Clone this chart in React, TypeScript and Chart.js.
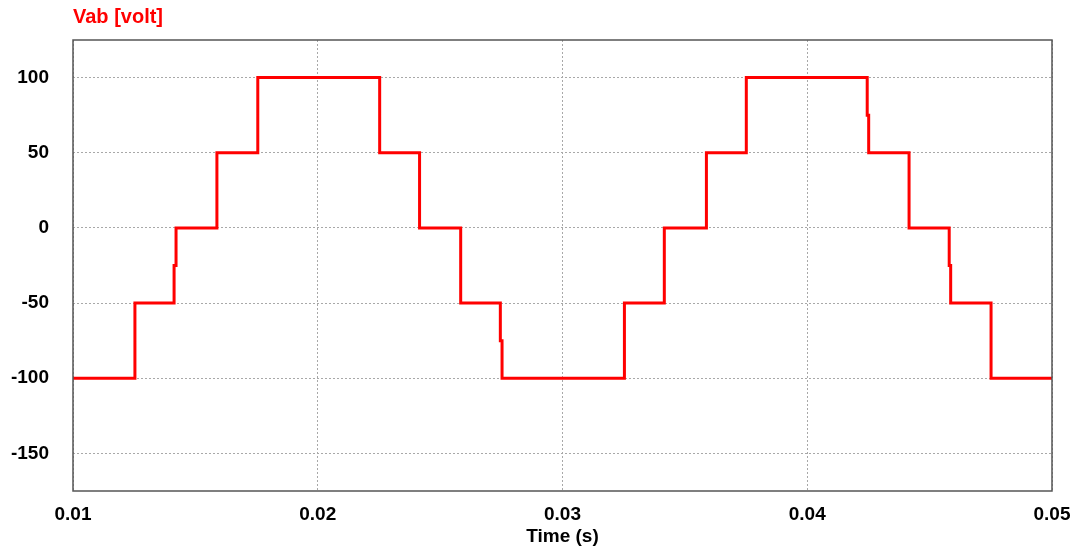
import React, { useEffect, useRef } from "react";
import { Chart, registerables } from "chart.js";

Chart.register(...registerables);

const times = [
  0.01, 0.01253, 0.01413, 0.01421, 0.01588, 0.01755, 0.02253, 0.02416, 0.02584,
  0.02746, 0.02753, 0.03253, 0.03416, 0.03588, 0.03751, 0.04245, 0.04251, 0.04416,
  0.0458, 0.04586, 0.04751, 0.05,
];
const volts = [
  -100, -50, -25, 0, 50, 100, 50, 0, -50,
  -75, -100, -50, 0, 50, 100, 75, 50, 0,
  -25, -50, -100, -100,
];
const xTicks = [0.01, 0.02, 0.03, 0.04, 0.05];
const yTicks = [-150, -100, -50, 0, 50, 100];

const FONT = '"Liberation Sans", Arial, sans-serif';

export default function App() {
  const ref = useRef<HTMLCanvasElement | null>(null);
  useEffect(() => {
    if (!ref.current) return;
    const framePlugin = {
      id: "frame",
      afterDraw(chart: any) {
        const { ctx, chartArea: a } = chart;
        ctx.save();
        ctx.strokeStyle = "#555555";
        ctx.lineWidth = 1.5;
        ctx.strokeRect(a.left, a.top, a.right - a.left, a.bottom - a.top);
        ctx.fillStyle = "#ff0000";
        ctx.font = `bold 20px ${FONT}`;
        ctx.textAlign = "left";
        ctx.textBaseline = "middle";
        ctx.fillText("Vab [volt]", a.left, 17);
        ctx.fillStyle = "#000000";
        ctx.font = `bold 19px ${FONT}`;
        ctx.textAlign = "center";
        ctx.fillText("Time (s)", (a.left + a.right) / 2, 537);
        ctx.restore();
      },
    };
    const chart = new Chart(ref.current, {
      type: "line",
      data: {
        datasets: [
          {
            data: times.map((t, i) => ({ x: t, y: volts[i] })),
            borderColor: "#ff0000",
            borderWidth: 3,
            pointRadius: 0,
            stepped: true,
            fill: false,
          },
        ],
      },
      options: {
        animation: false,
        responsive: false,
        maintainAspectRatio: false,
        layout: { padding: { left: 0, right: 28, top: 40, bottom: 0 } },
        plugins: { legend: { display: false }, tooltip: { enabled: false } },
        scales: {
          x: {
            type: "linear",
            min: 0.01,
            max: 0.05,
            afterBuildTicks: (s: any) => {
              s.ticks = xTicks.map((v) => ({ value: v }));
            },
            afterFit: (s: any) => {
              s.height = 63;
              s.paddingLeft = 0;
              s.paddingRight = 0;
            },
            border: { display: false, dash: [2, 2] },
            grid: {
              color: "#a8a8a8",
              lineWidth: 1,
              drawTicks: false,
            },
            ticks: {
              padding: 12,
              color: "#000",
              font: { family: FONT, size: 19, weight: "bold" },
              maxRotation: 0,
              autoSkip: false,
              callback: (v: any) => Number(v).toFixed(2),
            },
          },
          y: {
            type: "linear",
            min: -175,
            max: 125,
            afterBuildTicks: (s: any) => {
              s.ticks = yTicks.map((v) => ({ value: v }));
            },
            afterFit: (s: any) => {
              s.width = 73;
              s.paddingTop = 0;
              s.paddingBottom = 0;
            },
            border: { display: false, dash: [2, 2] },
            grid: {
              color: "#a8a8a8",
              lineWidth: 1,
              drawTicks: false,
            },
            ticks: {
              padding: 24,
              color: "#000",
              font: { family: FONT, size: 19, weight: "bold" },
              autoSkip: false,
            },
          },
        },
      } as any,
      plugins: [framePlugin],
    });
    return () => chart.destroy();
  }, []);
  return (
    <div style={{ position: "absolute", left: 0, top: 0, width: 1080, height: 554, background: "#fff" }}>
      <canvas ref={ref} width={1080} height={554} style={{ width: 1080, height: 554 }} />
    </div>
  );
}
